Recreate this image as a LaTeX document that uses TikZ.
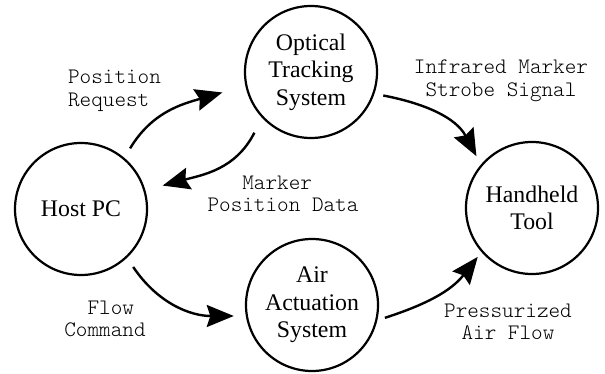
\documentclass[tikz,border=0pt]{standalone}
\usepackage{fontspec}
\setmainfont{Liberation Serif}
\usetikzlibrary{arrows.meta,calc}

\begin{document}
\begin{tikzpicture}[x=1pt,y=1pt,
  unit/.style={circle, draw, line width=2.2pt, minimum size=132pt, inner sep=0pt,
    align=center, font=\fontsize{23.8}{27.5}\selectfont},
  flow/.style={line width=2.4pt, -{Stealth[length=27pt,width=22pt,inset=3.5pt]}},
  tag/.style={align=center, inner sep=0pt,
    font=\ttfamily\fontseries{l}\fontsize{22.1}{22.5}\selectfont}]
\useasboundingbox (0,0) rectangle (605,373);

% subsystems
\node[unit] (opt)  at (311,301) {Optical\\Tracking\\System};
\node[unit] (host) at (81,164)  {Host PC};
\node[unit] (air)  at (312,68)  {Air\\Actuation\\System};
\node[unit] (tool) at (532,165) {Handheld\\Tool};

% data and air paths
\draw[flow] ($(host)+(51:78)$)  to[out=59,in=196]  ($(opt)+(193:91)$);
\draw[flow] ($(opt)+(227:83)$)  to[out=243,in=15]  ($(host)+(16:85)$);
\draw[flow] ($(opt)+(-18:76)$)  to[out=-11,in=118] ($(tool)+(137:76)$);
\draw[flow] ($(host)+(-48:78)$) to[out=-56,in=180] ($(air)+(188:79)$);
\draw[flow] ($(air)+(-10:74)$)  to[out=18,in=232]  ($(tool)+(222:73)$);

% path labels
\node[tag] (lpr)  at (114.5,282) {Position\\Request\phantom{x}};
\node[tag] (lmpd) at (283,179)   {Marker\phantom{x}\\Position Data};
\node[tag] (lir)  at (501,292)   {Infrared Marker\\Strobe Signal};
\node[tag] (lfc)  at (105,54)    {\phantom{x}Flow\\Command};
\node[tag] (lpa)  at (508,51)    {Pressurized\\Air Flow};
\end{tikzpicture}
\end{document}
